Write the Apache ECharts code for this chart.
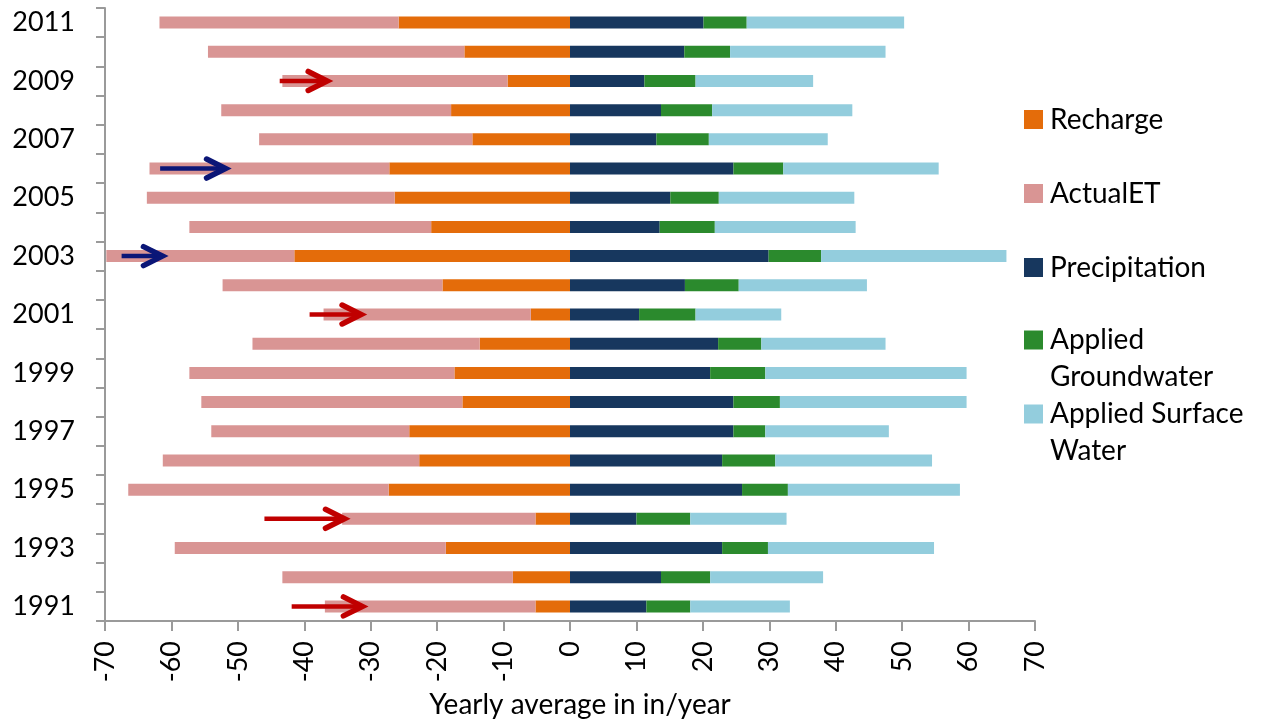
<!DOCTYPE html>
<html>
<head>
<meta charset="utf-8">
<script src="https://cdn.jsdelivr.net/npm/echarts@6/dist/echarts.min.js"></script>
<style>
html,body{margin:0;padding:0;background:#fff;}
#chart{width:1261px;height:726px;}
</style>
</head>
<body>
<div id="chart"></div>
<script>
const years = ['1991','1992','1993','1994','1995','1996','1997','1998','1999','2000','2001','2002','2003','2004','2005','2006','2007','2008','2009','2010','2011'];
const recharge = [-5.2,-8.6,-18.7,-5.2,-27.3,-22.7,-24.2,-16.2,-17.4,-13.6,-5.9,-19.2,-41.5,-20.9,-26.4,-27.2,-14.7,-17.9,-9.4,-15.9,-25.8];
const actualET = [-31.7,-34.7,-40.8,-29.1,-39.2,-38.6,-29.8,-39.3,-39.9,-34.2,-31.2,-33.1,-28.3,-36.4,-37.3,-36.1,-32.1,-34.6,-33.9,-38.6,-36.0];
const precipitation = [11.5,13.7,22.9,10.0,25.9,22.9,24.6,24.6,21.1,22.3,10.4,17.3,29.9,13.5,15.1,24.6,13.0,13.7,11.2,17.2,20.1];
const appliedGroundwater = [6.6,7.4,6.9,8.1,6.9,8.0,4.8,7.0,8.3,6.5,8.5,8.1,7.9,8.3,7.3,7.5,7.9,7.7,7.7,6.9,6.5];
const appliedSurfaceWater = [15.0,17.0,25.0,14.5,25.9,23.6,18.6,28.1,30.3,18.7,12.9,19.3,27.9,21.2,20.4,23.4,17.9,21.1,17.7,23.4,23.7];
const seriesNames = ['Recharge','ActualET','Precipitation','Applied Groundwater','Applied Surface Water'];
const legendLines = [['Recharge'],['ActualET'],['Precipitation'],['Applied','Groundwater'],['Applied Surface','Water']];
const xTicks = {min:-70, max:70, interval:10};
const axisTitle = 'Yearly average in in/year';
// annotation arrows: [fromX, toX, year]
const arrowFrom = [-43.7,-39.2,-46.0,-41.9,-61.7,-67.5];
const arrowTo   = [-36.4,-31.3,-33.8,-31.1,-51.7,-61.2];
const arrowYear = ['2009','2001','1994','1991','2006','2003'];
const arrowKind = ['red','red','red','red','blue','blue'];

const colors = ['#E46C0A','#D99594','#17375E','#2B8A2D','#93CDDD'];
const arrowColors = {red:'#C00000', blue:'#0B1677'};
const FONT = 'Lato';
const values = [recharge, actualET, precipitation, appliedGroundwater, appliedSurfaceWater];

const chart = echarts.init(document.getElementById('chart'), null, {renderer:'canvas'});

const LH = 37;
const legendCenters = [119.5,193.5,267.5,340,414];
const legends = seriesNames.map((n,i)=>{
  const lines = legendLines[i];
  const multi = lines.length > 1;
  // for two-line labels, a blank leading line keeps the first line level with the icon
  const text = multi ? ' \n' + lines.join('\n') : lines[0];
  const half = multi ? LH * 1.5 : LH / 2;
  return {
    data:[n], left:1024, top: legendCenters[i] - half,
    padding:0, itemWidth:19, itemHeight:19, icon:'rect', selectedMode:false,
    formatter: ()=>text,
    textStyle:{fontFamily:FONT, fontSize:28, color:'#000', lineHeight:LH, padding:[0,0,0,2]}
  };
});

const barSeries = seriesNames.map((n,i)=>({
  name:n, type:'bar', stack:'total', barWidth:12, data:values[i],
  itemStyle:{color:colors[i]}, emphasis:{disabled:true}
}));

const arrowData = arrowYear.map((y,i)=>[arrowFrom[i], arrowTo[i], y]);

option = {
  animation:false,
  color:colors,
  legend:legends,
  grid:{left:105, right:226, top:8, bottom:105, containLabel:false},
  xAxis:{
    type:'value', min:xTicks.min, max:xTicks.max, interval:xTicks.interval,
    name:axisTitle, nameLocation:'middle', nameGap:70,
    nameTextStyle:{fontFamily:FONT, fontSize:28, color:'#000', padding:[0,0,0,20]},
    axisLine:{show:true, onZero:false, lineStyle:{color:'#9a9a9a', width:2}},
    axisTick:{show:true, length:10, lineStyle:{color:'#9a9a9a', width:2}},
    axisLabel:{rotate:90, fontFamily:FONT, fontSize:27, color:'#000', margin:20},
    splitLine:{show:false}
  },
  yAxis:{
    type:'category', data:years,
    axisLine:{show:true, onZero:false, lineStyle:{color:'#9a9a9a', width:2}},
    axisTick:{show:true, length:9, interval:0, alignWithLabel:false, lineStyle:{color:'#9a9a9a', width:2}},
    axisLabel:{interval:1, fontFamily:FONT, fontSize:27, color:'#000', margin:30},
    splitLine:{show:false}
  },
  series: barSeries.concat([{
    name:'arrows', type:'custom', data:arrowData, z:10, silent:true,
    encode:{x:[0,1], y:2},
    renderItem:(params, api)=>{
      const p0 = api.coord([api.value(0), api.value(2)]);
      const p1 = api.coord([api.value(1), api.value(2)]);
      const c = arrowColors[arrowKind[params.dataIndex]];
      const y = p0[1];
      const hl = 20, hw = 9.5;
      return {type:'group', children:[
        {type:'line', shape:{x1:p0[0], y1:y, x2:p1[0]-3, y2:y}, style:{stroke:c, lineWidth:4.5}},
        {type:'polyline', shape:{points:[[p1[0]-hl, y-hw],[p1[0]-1, y],[p1[0]-hl, y+hw]]},
         style:{stroke:c, fill:null, lineWidth:5.5, lineCap:'round', lineJoin:'miter'}}
      ]};
    }
  }])
};
chart.setOption(option);
</script>
</body>
</html>
